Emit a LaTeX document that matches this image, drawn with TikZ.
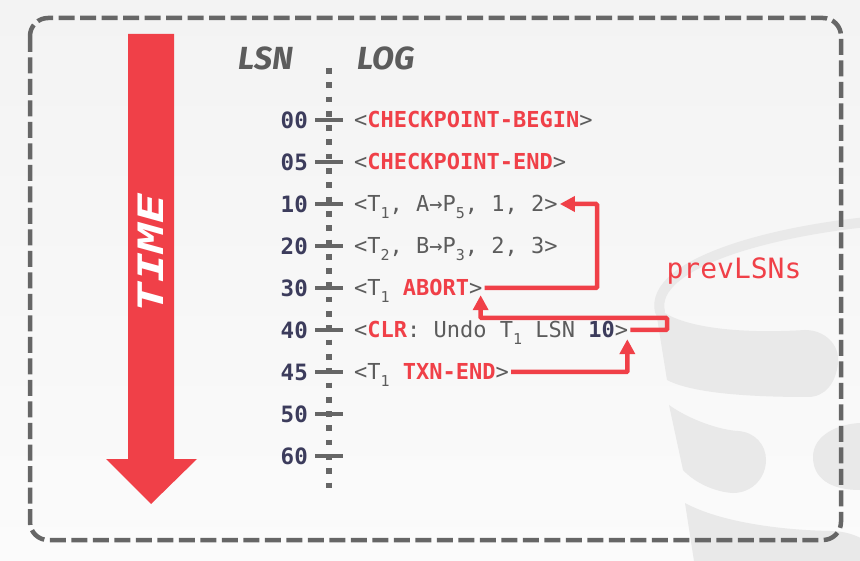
\documentclass[tikz,border=0pt]{standalone}
\usepackage{fontspec}
\usetikzlibrary{arrows.meta,calc}
\newfontfamily\monof{DejaVu Sans Mono}
\newfontfamily\hdrf{Fira Sans}
\definecolor{lred}{RGB}{240,64,72}
\definecolor{navy}{RGB}{60,60,92}
\definecolor{tgray}{RGB}{92,92,92}
\definecolor{dgray}{RGB}{102,102,102}
\definecolor{wm}{RGB}{233,233,233}
\definecolor{bgtop}{RGB}{243,243,243}
\definecolor{bgbot}{RGB}{251,251,251}
\newcommand\sbs[1]{\raisebox{-0.28em}{\fontsize{15}{15}\selectfont #1}}
\newcommand\kw[1]{\textcolor{lred}{\bfseries #1}}
\begin{document}
\begin{tikzpicture}[x=1pt,y=-1pt,
  entry/.style={anchor=west, inner sep=2pt, text height=20pt, text depth=4pt,
    font=\fontsize{22}{24}\selectfont\monof, text=tgray},
  lsnnum/.style={anchor=east, inner sep=0pt, font=\fontsize{22.5}{24}\selectfont\monof\bfseries, text=navy},
  tickline/.style={draw=dgray, line width=3.5pt},
  hdr/.style={font=\fontsize{32}{34}\selectfont\hdrf\bfseries\itshape, text=tgray},
  prev/.style={draw=lred, line width=4.5pt, -{Triangle[length=15pt,width=15pt]}, rounded corners=1pt},
  wmshape/.style={fill=wm}]
\useasboundingbox (0,0) rectangle (860,561);
% background
\shade[top color=bgtop, bottom color=bgbot] (0,0) rectangle (860,561);
% watermark
\begin{scope}
\clip (0,0) rectangle (860,561);
\draw[wm, line width=10pt, line cap=round] (660,312) .. controls (648,262) and (780,228) .. (890,220);
\fill[wmshape] (655,305) .. controls (675,328) and (740,334) .. (805,330)
  .. controls (825,330) and (840,345) .. (838,363)
  .. controls (836,383) and (825,397) .. (808,397)
  .. controls (740,397) and (690,392) .. (667,380) -- cycle;
\fill[wmshape] (669,405) .. controls (690,420) and (720,430) .. (738,431)
  .. controls (755,432) and (766,445) .. (766,460)
  .. controls (766,478) and (752,493) .. (733,493)
  .. controls (715,492) and (695,483) .. (683,470) -- cycle;
\fill[wmshape] (870,423) -- (860,423) .. controls (838,424) and (813,435) .. (813,457)
  .. controls (813,478) and (830,490) .. (860,490) -- (870,490) -- cycle;
\fill[wmshape] (685,503) .. controls (720,522) and (780,530) .. (830,531)
  .. controls (845,531) and (855,535) .. (865,540) -- (865,561) -- (694,561) -- cycle;
\end{scope}
% border
\draw[dgray, line width=4.5pt, dash pattern=on 16pt off 5.5pt, rounded corners=18pt] (30,18) rectangle (841,540);
% time arrow
\fill[lred] (128,34) -- (174,34) -- (174,459) -- (197,459) -- (151,504) -- (106,459) -- (128,459) -- cycle;
\node[rotate=90, text=white, font=\fontsize{35}{35}\selectfont\monof\bfseries\itshape] (time) at (151,253) {\scalebox{1.42}[1]{TIME}};
% headers
\node[hdr] (lsnh) at (266,58) {LSN};
\node[hdr] (logh) at (386,58) {LOG};
% dotted axis
\draw[dgray, line width=6.5pt, dash pattern=on 5.7pt off 8.6pt] (329,68) -- (329,494);
% rows
\foreach \lab/\y in {00/120,05/162,10/204,20/246,30/288,40/330,45/372,50/414,60/456}{
  \draw[tickline] (315,\y) -- (343,\y);
  \node[lsnnum] (n\lab) at (308,\y) {\lab};
}
\node[entry] (e00) at (352,120) {<\kw{CHECKPOINT-BEGIN}>};
\node[entry] (e05) at (352,162) {<\kw{CHECKPOINT-END}>};
\node[entry] (e10) at (352,204) {<T\sbs{1}, A→P\sbs{5}, 1, 2>};
\node[entry] (e20) at (352,246) {<T\sbs{2}, B→P\sbs{3}, 2, 3>};
\node[entry] (e30) at (352,288) {<T\sbs{1} \kw{ABORT}>};
\node[entry] (e40) at (352,330) {<\kw{CLR}: Undo T\sbs{1} LSN \textcolor{navy}{\bfseries 10}>};
\node[entry] (e45) at (352,372) {<T\sbs{1} \kw{TXN-END}>};
% prevLSN label
\node[text=lred, font=\fontsize{28}{30}\selectfont\monof] (plsn) at (734,271) {prevLSNs};
% connectors
\coordinate (c1) at (597,246);
\draw[prev] (e30.east) -| (c1) |- (e10.east);
\coordinate (c2) at (667,318);
\coordinate (tA) at ($(e30.south east)+(-4,-7)$);
\draw[prev] (e40.east) -| (c2) -| (tA);
\coordinate (tB) at ($(e40.south east)+(-3,-5)$);
\draw[prev] (e45.east) -| (tB);
\end{tikzpicture}
\end{document}
